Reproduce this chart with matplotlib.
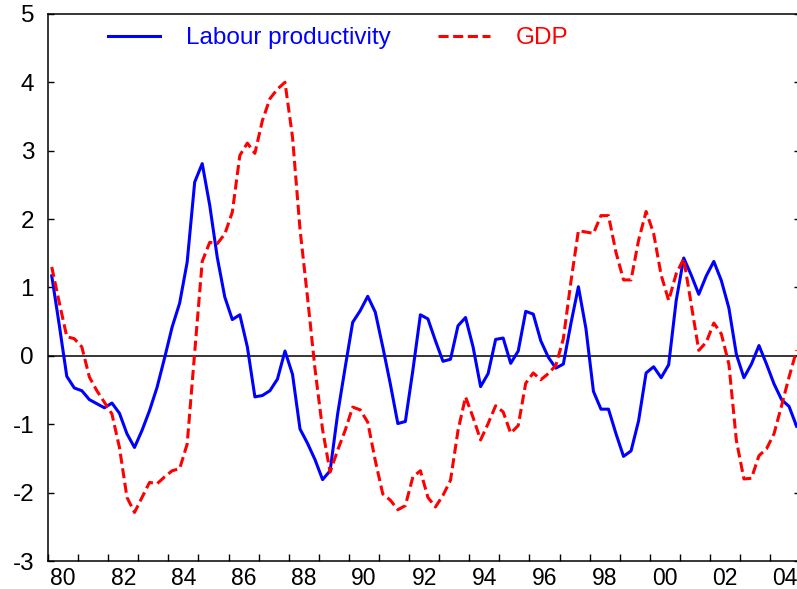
import numpy as np
import matplotlib.pyplot as plt

plt.rcParams['font.family'] = ['Liberation Sans', 'DejaVu Sans']
plt.rcParams['axes.unicode_minus'] = False

# quarterly growth, 1980Q1 - 2004Q4
start_year = 1980
productivity = [1.17, 0.45, -0.30, -0.47, -0.51, -0.64, -0.70, -0.76, -0.69, -0.84,
                -1.14, -1.34, -1.09, -0.80, -0.46, -0.03, 0.42, 0.77, 1.37, 2.54,
                2.81, 2.20, 1.44, 0.86, 0.53, 0.60, 0.13, -0.60, -0.58, -0.51,
                -0.34, 0.07, -0.27, -1.07, -1.28, -1.52, -1.81, -1.68, -0.85, -0.17,
                0.49, 0.66, 0.87, 0.64, 0.13, -0.41, -0.99, -0.96, -0.21, 0.60,
                0.54, 0.22, -0.08, -0.05, 0.44, 0.56, 0.13, -0.45, -0.26, 0.24,
                0.26, -0.11, 0.07, 0.65, 0.61, 0.22, -0.02, -0.18, -0.12, 0.47,
                1.01, 0.40, -0.52, -0.78, -0.78, -1.14, -1.47, -1.39, -0.95, -0.25,
                -0.16, -0.32, -0.13, 0.81, 1.43, 1.18, 0.90, 1.17, 1.38, 1.10,
                0.70, 0.02, -0.32, -0.12, 0.15, -0.12, -0.41, -0.64, -0.74, -1.03]
gdp = [1.30, 0.78, 0.28, 0.25, 0.13, -0.31, -0.51, -0.68, -0.85, -1.34,
       -2.07, -2.29, -2.07, -1.85, -1.87, -1.77, -1.68, -1.65, -1.29, 0.05,
       1.38, 1.66, 1.64, 1.78, 2.10, 2.93, 3.11, 2.96, 3.44, 3.76,
       3.90, 4.00, 3.20, 1.85, 0.85, -0.20, -1.08, -1.70, -1.38, -1.09,
       -0.75, -0.79, -0.97, -1.53, -2.02, -2.11, -2.25, -2.19, -1.77, -1.68,
       -2.07, -2.21, -2.04, -1.82, -1.09, -0.60, -0.90, -1.23, -0.99, -0.73,
       -0.82, -1.13, -1.02, -0.40, -0.25, -0.35, -0.26, -0.14, 0.25, 1.08,
       1.83, 1.81, 1.79, 2.05, 2.05, 1.51, 1.11, 1.11, 1.69, 2.11,
       1.79, 1.18, 0.81, 1.20, 1.42, 0.75, 0.08, 0.20, 0.48, 0.32,
       -0.12, -1.24, -1.80, -1.79, -1.46, -1.36, -1.14, -0.73, -0.31, 0.08]
year_labels = ['80', '82', '84', '86', '88', '90', '92', '94', '96', '98', '00', '02', '04']

# mid-quarter positions
quarters = start_year + 0.125 + 0.25 * np.arange(len(productivity))

fig = plt.figure(figsize=(7.97, 5.89), dpi=100)
ax = fig.add_axes([0.0602, 0.0475, 0.944, 0.929])

ax.axhline(0, color='black', lw=1.1, zorder=1)
ax.plot(quarters, productivity, color='#0000ff', lw=2.2, label='Labour productivity')
ax.plot(quarters, gdp, color='#ff0000', lw=2.2, ls=(0, (3.3, 1.5)), label='GDP')

ax.set_xlim(start_year, start_year + 25)
ax.set_ylim(-3, 5)

ax.set_yticks(range(-3, 6))
ax.tick_params(axis='y', direction='in', length=4, width=1, right=True,
               labelsize=17.5, pad=10)

ax.set_xticks(np.arange(start_year, start_year + 26))
ax.set_xticks(np.arange(start_year + 0.5, start_year + 25, 2), labels=year_labels, minor=True)
ax.tick_params(axis='x', which='major', direction='in', length=5, width=1, labelbottom=False)
ax.tick_params(axis='x', which='minor', length=0, labelsize=16.5, pad=4.5)

for s in ax.spines.values():
    s.set_linewidth(1.1)

leg = ax.legend(loc='center left', bbox_to_anchor=(0.0797, 0.955), ncol=2,
                frameon=False, fontsize=17.5, handlelength=2.14, handletextpad=1.07,
                columnspacing=1.95, borderpad=0, borderaxespad=0)
for txt, line in zip(leg.get_texts(), leg.get_lines()):
    txt.set_color(line.get_color())

fig.savefig('out.png', dpi=100)
